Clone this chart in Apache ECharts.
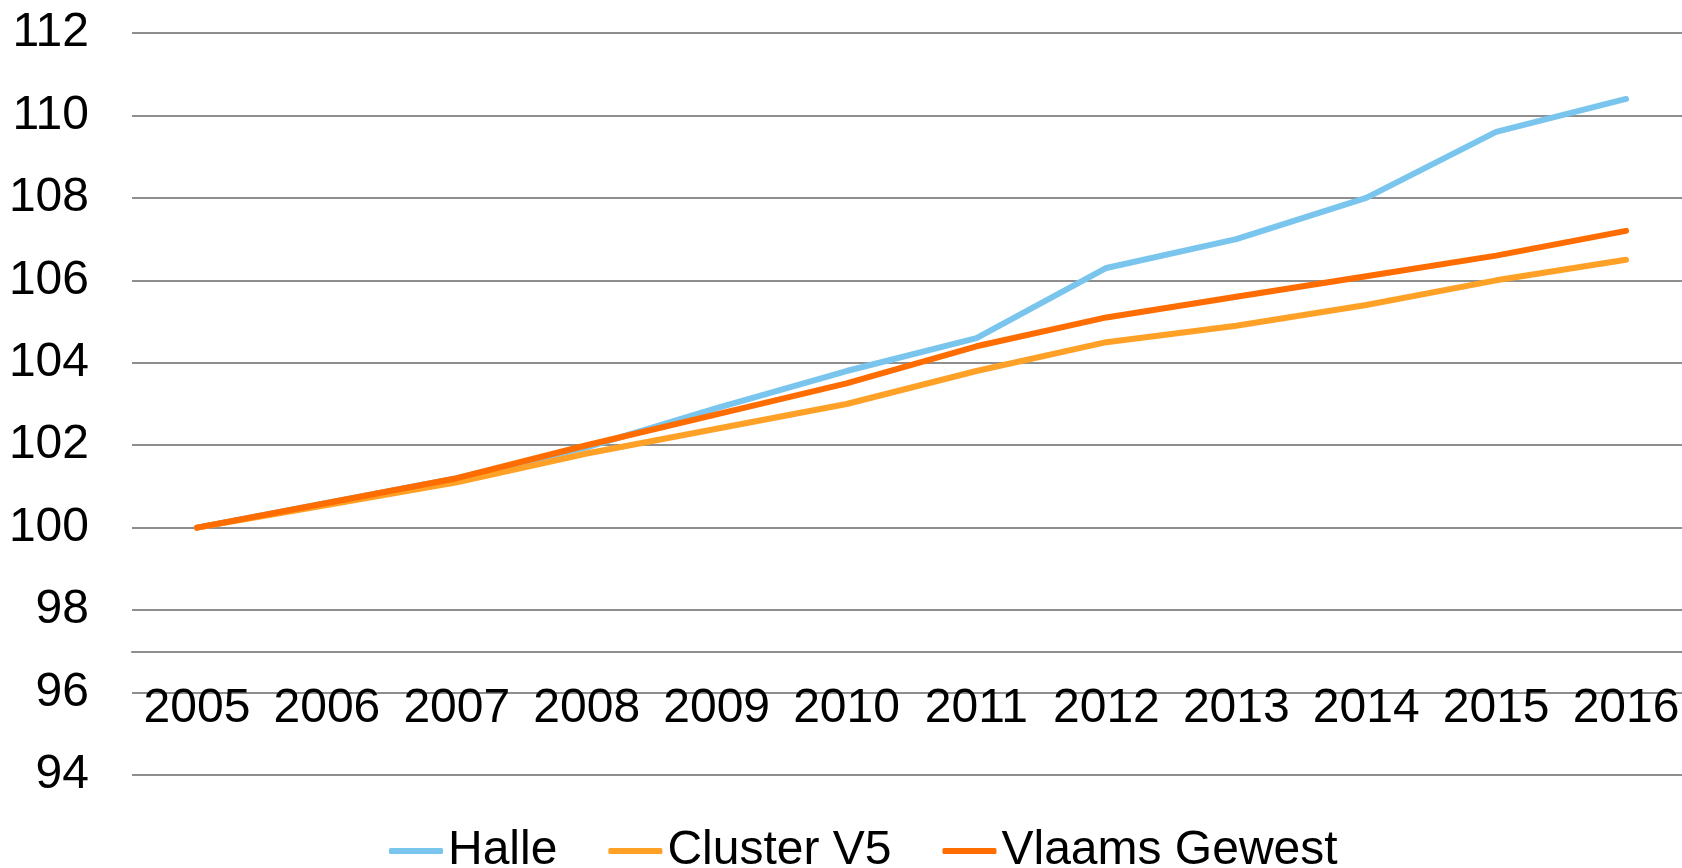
<!DOCTYPE html>
<html>
<head>
<meta charset="utf-8">
<script src="https://cdn.jsdelivr.net/npm/echarts@6/dist/echarts.min.js"></script>
<style>
  html, body { margin: 0; padding: 0; background: #fff; }
  #main { width: 1682px; height: 868px; }
</style>
</head>
<body>
<div id="main"></div>
<script>
// categories and values
var years = ['2005', '2006', '2007', '2008', '2009', '2010', '2011', '2012', '2013', '2014', '2015', '2016'];
var halle = [100, 100.6, 101.2, 101.95, 102.9, 103.8, 104.6, 106.3, 107.0, 108.0, 109.6, 110.4];
var clusterV5 = [100, 100.55, 101.1, 101.8, 102.4, 103.0, 103.8, 104.5, 104.9, 105.4, 106.0, 106.5];
var vlaamsGewest = [100, 100.6, 101.2, 102.0, 102.75, 103.5, 104.4, 105.1, 105.6, 106.1, 106.6, 107.2];

var yMin = 94, yMax = 112, yStep = 2;
var axisCross = 97; // horizontal axis crosses the value axis here

var gridTop = 33, gridBottom = 93;
var gridHeight = 868 - gridTop - gridBottom;
// move the category axis up from the bottom of the grid to the crossing value
var xOffset = -gridHeight * (axisCross - yMin) / (yMax - yMin);

var font = "'Liberation Sans', Arial, sans-serif";
var fontSize = 48;
var gridColor = '#8e8e8e';

var myChart = echarts.init(document.getElementById('main'));

function lineSeries(name, data, color) {
  return {
    name: name,
    type: 'line',
    data: data,
    symbol: 'none',
    showSymbol: false,
    animation: false,
    lineStyle: { color: color, width: 6, cap: 'round', join: 'round' },
    itemStyle: { color: color }
  };
}

myChart.setOption({
  backgroundColor: '#fff',
  animation: false,
  grid: {
    left: 132,
    width: 1559,
    top: gridTop,
    bottom: gridBottom,
    containLabel: false,
    outerBoundsMode: 'none'
  },
  legend: {
    left: 389,
    top: 827,
    padding: 0,
    itemGap: 51,
    itemWidth: 54,
    itemHeight: 6,
    icon: 'roundRect',
    textStyle: { fontSize: fontSize, color: '#000', fontFamily: font },
    data: ['Halle', 'Cluster V5', 'Vlaams Gewest']
  },
  xAxis: {
    type: 'category',
    data: years,
    boundaryGap: true,
    offset: xOffset,
    axisLine: { show: true, lineStyle: { color: gridColor, width: 2 } },
    axisTick: { show: false },
    axisLabel: { interval: 0, margin: 33, fontSize: fontSize, color: '#000', fontFamily: font },
    splitLine: { show: false }
  },
  yAxis: {
    type: 'value',
    min: yMin,
    max: yMax,
    interval: yStep,
    axisLine: { show: false },
    axisTick: { show: false },
    axisLabel: { margin: 43, fontSize: fontSize, color: '#000', fontFamily: font },
    splitLine: { show: true, lineStyle: { color: gridColor, width: 2 } }
  },
  series: [
    lineSeries('Halle', halle, '#79c5ee'),
    lineSeries('Cluster V5', clusterV5, '#ffa127'),
    lineSeries('Vlaams Gewest', vlaamsGewest, '#ff6c00')
  ]
});
</script>
</body>
</html>
